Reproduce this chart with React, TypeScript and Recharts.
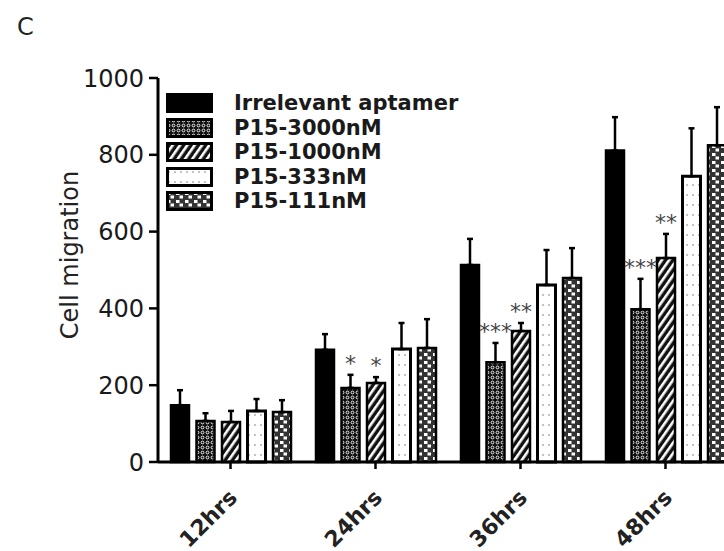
import React from 'react';
import { BarChart, Bar, XAxis, YAxis, ErrorBar, LabelList } from 'recharts';

const categories = ['12hrs', '24hrs', '36hrs', '48hrs'];

// mean cell counts and upper SEM per condition
const irrelevant = [148, 292, 513, 811];
const irrelevantErr = [39, 41, 68, 87];
const p3000 = [107, 193, 260, 398];
const p3000Err = [20, 34, 50, 79];
const p1000 = [104, 206, 341, 531];
const p1000Err = [29, 15, 21, 63];
const p333 = [133, 294, 461, 744];
const p333Err = [31, 68, 91, 125];
const p111 = [130, 297, 479, 825];
const p111Err = [31, 75, 78, 99];

// significance marks vs irrelevant aptamer
const p3000Stars = ['', '*', '***', '***'];
const p1000Stars = ['', '*', '**', '**'];

const yTicks = [0, 200, 400, 600, 800, 1000];

const series = [
  { key: 'irrelevant', name: 'Irrelevant aptamer', fill: '#000' },
  { key: 'p3000', name: 'P15-3000nM', fill: 'url(#pat3000)' },
  { key: 'p1000', name: 'P15-1000nM', fill: 'url(#pat1000)' },
  { key: 'p333', name: 'P15-333nM', fill: 'url(#pat333)' },
  { key: 'p111', name: 'P15-111nM', fill: 'url(#pat111)' },
];

const data = categories.map((c, i) => ({
  name: c,
  irrelevant: irrelevant[i],
  irrelevantErr: [0, irrelevantErr[i]],
  p3000: p3000[i],
  p3000Err: [0, p3000Err[i]],
  p1000: p1000[i],
  p1000Err: [0, p1000Err[i]],
  p333: p333[i],
  p333Err: [0, p333Err[i]],
  p111: p111[i],
  p111Err: [0, p111Err[i]],
}));

const FONT = '"DejaVu Sans", sans-serif';

const makeStars = (stars: string[], errs: number[]) => (props: any) => {
  const { x, y, width, height, index, value } = props;
  const s = stars[index];
  if (!s) return null;
  const perUnit = height / value;
  const top = y - errs[index] * perUnit;
  return (
    <text x={x + width / 2} y={top - 4} textAnchor="middle" fontSize={22} fontFamily={FONT} fill="#444">
      {s}
    </text>
  );
};

const XTick = (props: any) => {
  const { x, y, payload } = props;
  return (
    <g transform={`translate(${x + 8},${y + 28})`}>
      <text transform="rotate(-45)" textAnchor="end" fontSize={22} fontWeight="bold" fontFamily={FONT} fill="#222">
        {payload.value}
      </text>
    </g>
  );
};

const PatternDefs = () => (
  <svg width={0} height={0} style={{ position: 'absolute' }}>
    <defs>
      <pattern id="pat3000" width={5} height={5} patternUnits="userSpaceOnUse">
        <rect width={5} height={5} fill="#111" />
        <circle cx={2.5} cy={2.5} r={1.4} fill="none" stroke="#fff" strokeWidth={0.9} />
      </pattern>
      <pattern id="pat1000" width={6} height={6} patternUnits="userSpaceOnUse" patternTransform="rotate(35)">
        <rect width={6} height={6} fill="#111" />
        <rect x={0} y={0} width={2.6} height={6} fill="#fff" />
      </pattern>
      <pattern id="pat333" width={6} height={10} patternUnits="userSpaceOnUse">
        <rect width={6} height={10} fill="#fff" />
        <circle cx={3} cy={5} r={0.8} fill="#777" />
      </pattern>
      <pattern id="pat111" width={9} height={8} patternUnits="userSpaceOnUse">
        <rect width={9} height={8} fill="#333" />
        <rect x={1} y={1} width={3.5} height={3} fill="#fff" />
        <rect x={4.5} y={4.5} width={3.5} height={3} fill="#fff" />
      </pattern>
    </defs>
  </svg>
);

const LegendBox = () => (
  <div style={{ position: 'absolute', left: 166, top: 91, fontFamily: FONT }}>
    {series.map((s) => (
      <div key={s.key} style={{ display: 'flex', alignItems: 'center', height: 24.5 }}>
        <svg width={48} height={20} style={{ display: 'block' }}>
          <rect x={1.5} y={1.5} width={44} height={17} fill={s.fill} stroke="#000" strokeWidth={3} />
        </svg>
        <span style={{ marginLeft: 20, fontSize: 21, fontWeight: 'bold', color: '#1a1a1a', lineHeight: '20px' }}>
          {s.name}
        </span>
      </div>
    ))}
  </div>
);

export default function App() {
  return (
    <div style={{ position: 'absolute', left: 0, top: 0, width: 724, height: 551, overflow: 'hidden', background: '#fff' }}>
      <PatternDefs />
      <div style={{ position: 'absolute', left: 17, top: 13, fontSize: 24, fontFamily: FONT, color: '#222' }}>C</div>
      <BarChart
        width={742}
        height={551}
        data={data}
        margin={{ top: 78, right: 4, left: 0, bottom: 0 }}
        barSize={18}
        barGap={7.5}
      >
        <XAxis
          dataKey="name"
          height={89}
          axisLine={{ stroke: '#000', strokeWidth: 3 }}
          tickLine={{ stroke: '#000', strokeWidth: 2.5 }}
          tickSize={7}
          tick={<XTick />}
          interval={0}
        />
        <YAxis
          width={158}
          domain={[0, 1000]}
          ticks={yTicks}
          interval={0}
          axisLine={{ stroke: '#000', strokeWidth: 3 }}
          tickLine={{ stroke: '#000', strokeWidth: 2.5 }}
          tickSize={9}
          tickMargin={5}
          tick={{ fontSize: 24, fontFamily: FONT, fill: '#1a1a1a' }}
          label={{
            content: () => (
              <text
                transform="translate(78,255) rotate(-90)"
                textAnchor="middle"
                fontSize={24}
                fontFamily={FONT}
                fill="#222"
              >
                Cell migration
              </text>
            ),
          }}
        />
        <Bar dataKey="irrelevant" name="Irrelevant aptamer" fill="#000" stroke="#000" strokeWidth={2.5} isAnimationActive={false}>
          <ErrorBar dataKey="irrelevantErr" width={3} stroke="#000" strokeWidth={2.5} />
        </Bar>
        <Bar dataKey="p3000" name="P15-3000nM" fill="url(#pat3000)" stroke="#000" strokeWidth={2.5} isAnimationActive={false}>
          <ErrorBar dataKey="p3000Err" width={3} stroke="#000" strokeWidth={2.5} />
          <LabelList dataKey="p3000" content={makeStars(p3000Stars, p3000Err)} />
        </Bar>
        <Bar dataKey="p1000" name="P15-1000nM" fill="url(#pat1000)" stroke="#000" strokeWidth={2.5} isAnimationActive={false}>
          <ErrorBar dataKey="p1000Err" width={3} stroke="#000" strokeWidth={2.5} />
          <LabelList dataKey="p1000" content={makeStars(p1000Stars, p1000Err)} />
        </Bar>
        <Bar dataKey="p333" name="P15-333nM" fill="url(#pat333)" stroke="#000" strokeWidth={3} isAnimationActive={false}>
          <ErrorBar dataKey="p333Err" width={3} stroke="#000" strokeWidth={2.5} />
        </Bar>
        <Bar dataKey="p111" name="P15-111nM" fill="url(#pat111)" stroke="#000" strokeWidth={2.5} isAnimationActive={false}>
          <ErrorBar dataKey="p111Err" width={3} stroke="#000" strokeWidth={2.5} />
        </Bar>
      </BarChart>
      <LegendBox />
    </div>
  );
}
